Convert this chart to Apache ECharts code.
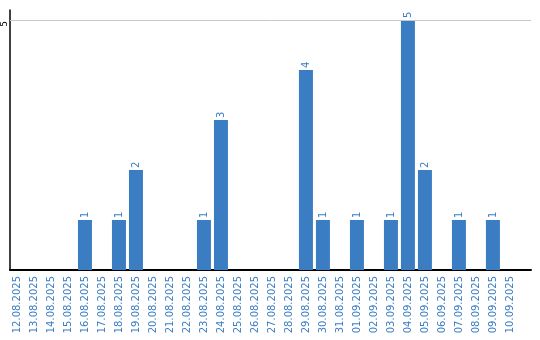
<!DOCTYPE html>
<html><head><meta charset="utf-8">
<script src="https://cdn.jsdelivr.net/npm/echarts@6/dist/echarts.min.js"></script>
<style>html,body{margin:0;padding:0;background:#fff}#c{width:540px;height:340px}</style>
</head><body><div id="c"></div>
<script>
var categories = ["12.08.2025","13.08.2025","14.08.2025","15.08.2025","16.08.2025","17.08.2025","18.08.2025","19.08.2025","20.08.2025","21.08.2025","22.08.2025","23.08.2025","24.08.2025","25.08.2025","26.08.2025","27.08.2025","28.08.2025","29.08.2025","30.08.2025","31.08.2025","01.09.2025","02.09.2025","03.09.2025","04.09.2025","05.09.2025","06.09.2025","07.09.2025","08.09.2025","09.09.2025","10.09.2025"];
var values = [0,0,0,0,1,0,1,2,0,0,0,1,3,0,0,0,0,4,1,0,1,0,1,5,2,0,1,0,1,0];
var yTicks = [5];

var blue = '#3b7dc3';
var pts = [];
values.forEach(function(v,i){ if (v > 0) pts.push([i + 0.5, v]); });
var chart = echarts.init(document.getElementById('c'));
chart.setOption({
  animation: false,
  grid: {left: 10, right: 9, top: 10, bottom: 70},
  xAxis: {
    type: 'value', min: 0.09, max: 30.74,
    axisLine: {show: true, onZero: false, lineStyle: {color: '#000', width: 2}},
    axisTick: {show: false},
    splitLine: {show: false},
    axisLabel: {
      customValues: categories.map(function(_, i){ return i + 0.5; }),
      formatter: function(v){ return categories[Math.round(v - 0.5)] || ''; },
      rotate: 90, color: blue, fontSize: 10, fontFamily: 'DejaVu Sans', margin: 6
    }
  },
  yAxis: {
    type: 'value', min: 0, max: 5.2,
    axisLine: {show: true, lineStyle: {color: '#000', width: 1.5}},
    axisTick: {show: false},
    splitLine: {show: false},
    axisLabel: {customValues: yTicks, rotate: 90, color: '#000', fontSize: 9, fontFamily: 'DejaVu Sans', margin: 5, align: 'center', verticalAlign: 'middle', padding: [0, 8, 0, 0]}
  },
  series: [{
    type: 'bar', data: pts, barWidth: 14,
    itemStyle: {color: blue},
    label: {show: true, position: 'top', rotate: 90, align: 'left', verticalAlign: 'middle',
      distance: 2, color: blue, fontSize: 10, fontFamily: 'DejaVu Sans'},
    markLine: {
      silent: true, symbol: 'none', label: {show: false},
      lineStyle: {color: '#c8c8c8', width: 1, type: 'solid'},
      data: yTicks.map(function(t){ return {yAxis: t}; })
    }
  }]
});
</script></body></html>
